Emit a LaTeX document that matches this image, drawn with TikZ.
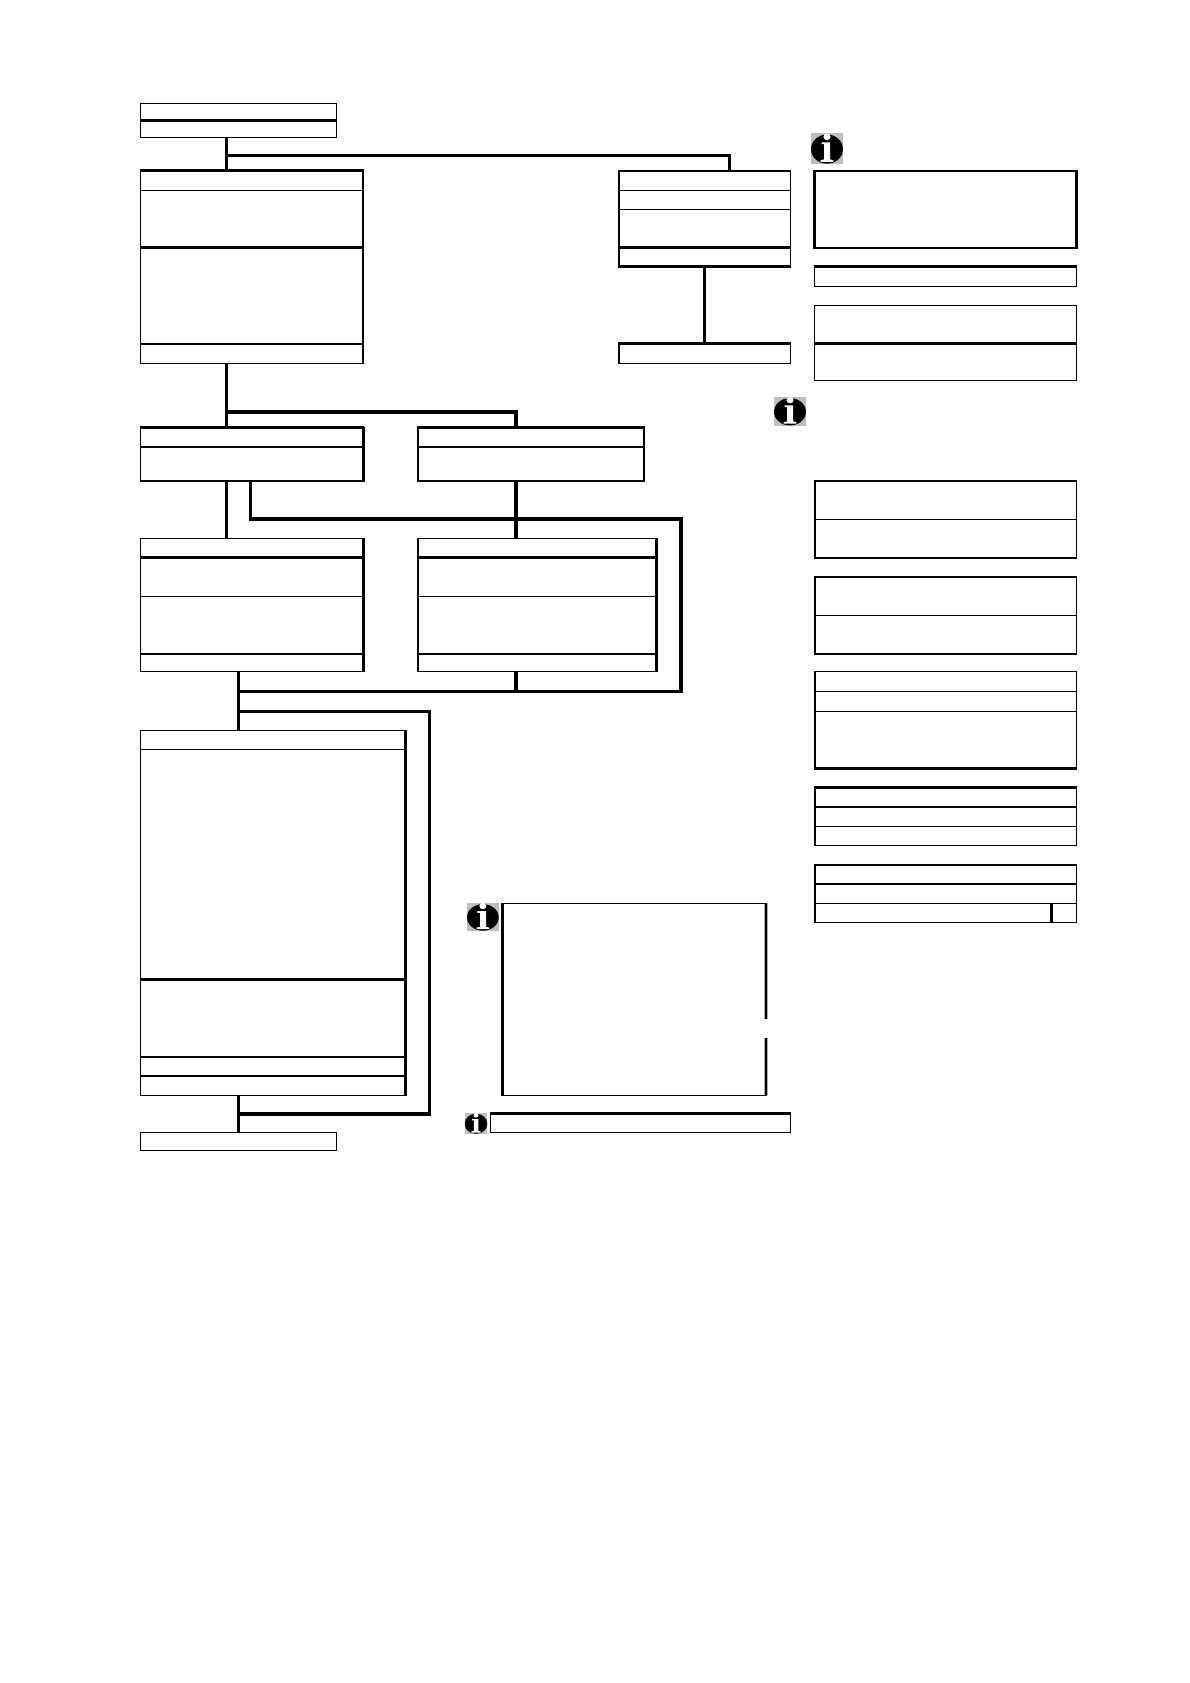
\documentclass[tikz,border=0pt]{standalone}
\definecolor{icongray}{HTML}{BEBEBE}
\tikzset{
  cellbox/.style={draw=black,line width=1.5pt,fill=none,inner sep=0pt,outer sep=0pt,anchor=north west},
  heavy/.style={draw=black,line width=2.6pt,shorten >=-0.75pt,shorten <=-0.75pt},
  light/.style={draw=black,line width=1.5pt,line cap=rect},
  conn/.style={draw=black,line width=3.2pt,line join=miter}
}
% \cell{name}{x1}{y1}{x2}{y2}
\newcommand{\cell}[5]{%
  \pgfmathsetmacro{\cw}{#4-#2}\pgfmathsetmacro{\ch}{#5-#3}%
  \node[cellbox,minimum width=\cw pt,minimum height=\ch pt] (#1) at (#2,#3) {};}
% thick sides of a cell
\newcommand{\htop}[1]{\draw[heavy] (#1.north west) -- (#1.north east);}
\newcommand{\hbot}[1]{\draw[heavy] (#1.south west) -- (#1.south east);}
\newcommand{\hleft}[1]{\draw[heavy] (#1.north west) -- (#1.south west);}
\newcommand{\hright}[1]{\draw[heavy] (#1.north east) -- (#1.south east);}
% \infoicon{x1}{y1}{x2}{y2}
\newcommand{\infoicon}[4]{%
  \pgfmathsetmacro{\iw}{#3-#1}\pgfmathsetmacro{\ih}{#4-#2}%
  \begin{scope}[shift={(#1,#2)},x=\iw pt,y=-\ih pt]
    \fill[icongray] (0,0) rectangle (1,1);
    \fill[black] (.5,.52) ellipse[x radius=.5,y radius=.47];
    \fill[white] (.5,.12) ellipse[x radius=.11,y radius=.11];
    \fill[white] (.33,.3) -- (.6,.3) -- (.6,.85) -- (.7,.88) -- (.7,.93) -- (.3,.93) -- (.3,.88) -- (.41,.85) -- (.41,.36) -- (.33,.36) -- cycle;
  \end{scope}}
\begin{document}
\begin{tikzpicture}[x=1pt,y=-1pt]
\useasboundingbox (0,0) rectangle (1190,1683);
\fill[white] (0,0) rectangle (1190,1683);

% A
\cell{aone}{140.3}{103.3}{336.7}{120.7}
\cell{atwo}{140.3}{120.7}{336.7}{137.3}
\htop{atwo}
% B
\cell{bone}{140.3}{170.7}{363}{190.3}
\cell{btwo}{140.3}{190.3}{363}{247.7}
\cell{bthree}{140.3}{247.7}{363}{344}
\cell{bfour}{140.3}{344}{363}{363.3}
\htop{bone}\hright{bone}\hright{btwo}\hright{bthree}\hright{bfour}\htop{bthree}\htop{bfour}
% C, D
\cell{cone}{619}{171}{790.3}{190.3}
\cell{ctwo}{619}{190.3}{790.3}{209.3}
\cell{cthree}{619}{209.3}{790.3}{247.7}
\cell{cfour}{619}{247.7}{790.3}{266.7}
\htop{cone}\hleft{cone}\hleft{ctwo}\hleft{cthree}\hleft{cfour}\htop{cfour}\hbot{cfour}
\cell{done}{619}{343.7}{790.3}{363.3}
\htop{done}\hleft{done}
% E, F, G
\cell{eone}{814.7}{171}{1076.7}{248}
\htop{eone}\hleft{eone}\hbot{eone}\hright{eone}
\cell{fone}{814.7}{266.7}{1076.7}{286.3}
\htop{fone}
\cell{gone}{814.7}{305.3}{1076.7}{343.7}
\cell{gtwo}{814.7}{343.7}{1076.7}{380.3}
\htop{gtwo}
% H
\cell{hone}{140.3}{427.7}{363.3}{447}
\cell{htwo}{140.3}{447}{363.3}{481}
\htop{hone}\hright{hone}\hright{htwo}\htop{htwo}\hbot{htwo}
% I
\cell{ione}{418}{427.7}{644}{447}
\cell{itwo}{418}{447}{644}{481}
\htop{ione}\htop{itwo}\hbot{itwo}
% J
\cell{jone}{140.3}{538.3}{363.3}{557.7}
\cell{jtwo}{140.3}{557.7}{363.3}{596.3}
\cell{jthree}{140.3}{596.3}{363.3}{654}
\cell{jfour}{140.3}{654}{363.3}{671.3}
\hright{jone}\hright{jtwo}\hright{jthree}\hright{jfour}\htop{jtwo}\htop{jfour}
% K
\cell{kone}{418}{538.3}{656.7}{557.7}
\cell{ktwo}{418}{557.7}{656.7}{596.3}
\cell{kthree}{418}{596.3}{656.7}{654}
\cell{kfour}{418}{654}{656.7}{671.3}
\hright{kone}\hright{ktwo}\hright{kthree}\hright{kfour}\htop{ktwo}\htop{kfour}
% L
\cell{lone}{140.3}{730.3}{405.3}{749.3}
\cell{ltwo}{140.3}{749.3}{405.3}{979.7}
\cell{lthree}{140.3}{979.7}{405.3}{1057}
\cell{lfour}{140.3}{1057}{405.3}{1076}
\cell{lfive}{140.3}{1076}{405.3}{1095.3}
\hright{lone}\hright{ltwo}\hright{lthree}\hright{lfour}\hright{lfive}\htop{lthree}\htop{lfour}\htop{lfive}
% M
\cell{mone}{140.3}{1132.7}{336.7}{1150.3}
% N (right side interrupted)
\node[inner sep=0pt,outer sep=0pt,anchor=north west,minimum width=263.3pt,minimum height=192pt] (none) at (502.7,903.3) {};
\coordinate (gapa) at (766,1019);
\coordinate (gapb) at (766,1038);
\draw[light] (none.south east) -- (none.south west);
\draw[light] (none.north west) -- (none.north east);
\draw[heavy] (none.north west) -- (none.south west);
\draw[draw=black,line width=2.6pt] (none.north east) -- (gapa);
\draw[draw=black,line width=2.6pt] (gapb) -- (none.south east);
% O
\cell{oone}{490.3}{1113.7}{790.7}{1132.7}
\htop{oone}
% P, Q
\cell{pone}{815}{481}{1076.7}{519.3}
\cell{ptwo}{815}{519.3}{1076.7}{558}
\htop{pone}\hleft{pone}\hleft{ptwo}\hbot{ptwo}
\cell{qone}{815}{577}{1076.7}{615.3}
\cell{qtwo}{815}{615.3}{1076.7}{654}
\htop{qone}\hleft{qone}\hleft{qtwo}\hbot{qtwo}
% R
\cell{rone}{815}{671.3}{1076.7}{691.3}
\cell{rtwo}{815}{691.3}{1076.7}{711.3}
\cell{rthree}{815}{711.3}{1076.7}{768.7}
\hleft{rone}\hleft{rtwo}\hleft{rthree}\hbot{rthree}
% S
\cell{sone}{815}{787.7}{1076.7}{807}
\cell{stwo}{815}{807}{1076.7}{826.3}
\cell{sthree}{815}{826.3}{1076.7}{845.3}
\htop{sone}\hleft{sone}\hleft{stwo}\hleft{sthree}
% T
\cell{tone}{815}{865}{1076.7}{884}
\cell{ttwo}{815}{884}{1076.7}{903.3}
\cell{tthree}{815}{903.3}{1051.7}{922.7}
\cell{tfour}{1051.7}{903.3}{1076.7}{922.7}
\htop{tone}\hleft{tone}\hleft{ttwo}\hleft{tthree}\htop{ttwo}\hleft{tfour}

% connector guide coordinates
\coordinate (ca) at (226.7,0);
\coordinate (cb) at (250.7,0);
\coordinate (cc) at (238.5,0);
\coordinate (cd) at (515.9,0);
\coordinate (ce) at (729.3,0);
\coordinate (cf) at (681,0);
\coordinate (cg) at (429.7,0);
\coordinate (ya) at (0,155.3);
\coordinate (yb) at (0,412);
\coordinate (yc) at (0,519);
\coordinate (yd) at (0,691.7);
\coordinate (ye) at (0,711.7);
\coordinate (yf) at (0,1114);

% connectors
\draw[conn] (ca |- atwo.south) -- (ca |- bone.north);
\draw[conn] (ca |- ya) -- (ce |- ya) -- (ce |- cone.north);
\draw[conn] (cfour.south) -- (done.north);
\draw[conn] (ca |- bfour.south) -- (ca |- hone.north);
\draw[conn] (ca |- yb) -- (cd |- yb) -- (cd |- ione.north);
\draw[conn] (ca |- htwo.south) -- (ca |- jone.north);
\draw[conn] (cb |- htwo.south) -- (cb |- yc) -- (cf |- yc) -- (cf |- yd) -- (cc |- yd);
\draw[conn] (cd |- itwo.south) -- (cd |- kone.north);
\draw[conn] (cd |- kfour.south) -- (cd |- yd);
\draw[conn] (cc |- jfour.south) -- (cc |- lone.north);
\draw[conn] (cc |- ye) -- (cg |- ye) -- (cg |- yf) -- (cc |- yf);
\draw[conn] (cc |- lfive.south) -- (cc |- mone.north);

% info icons
\infoicon{811}{133}{843}{164}
\infoicon{774}{396.7}{806}{425.7}
\infoicon{467}{902.7}{498.7}{931}
\infoicon{464.7}{1112.7}{487.3}{1134}
\end{tikzpicture}
\end{document}
